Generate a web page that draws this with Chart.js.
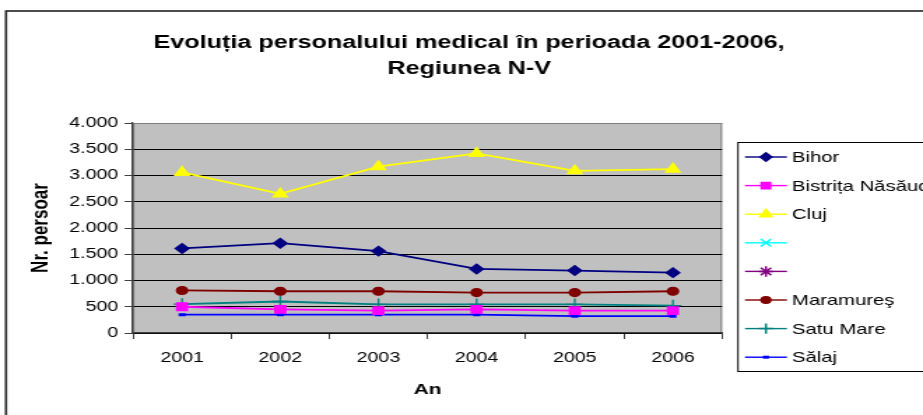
<!DOCTYPE html>
<html>
<head>
<meta charset="utf-8">
<script src="https://cdn.jsdelivr.net/npm/chart.js@4/dist/chart.umd.min.js"></script>
<style>
  html, body { margin:0; padding:0; background:#fff; overflow:hidden; }
  /* graficul original e intins pe orizontala (~1.4x), la fel si aici */
  #chart { display:block; transform:scaleX(1.39848); transform-origin:0 0; }
</style>
</head>
<body>
<canvas id="chart" width="660" height="415"></canvas>
<script>
// date
const ani = ['2001','2002','2003','2004','2005','2006'];
const bihor     = [1610, 1710, 1560, 1220, 1190, 1150];
const bistrita  = [ 500,  450,  425,  450,  425,  425];
const cluj      = [3060, 2650, 3170, 3420, 3090, 3120];
const serieGoala1 = [];
const serieGoala2 = [];
const maramures = [ 810,  795,  795,  770,  770,  795];
const satuMare  = [ 550,  600,  545,  545,  545,  520];
const salaj     = [ 350,  350,  350,  350,  320,  320];
const yTicks = [0, 500, 1000, 1500, 2000, 2500, 3000, 3500, 4000];

const FONT = "'Liberation Sans', Arial, sans-serif";

const serii = [
  { label:'Bihor', data: bihor, color:'#000080', style:'rectRot', r:4.8 },
  { label:'Bistrița Năsăud', data: bistrita, color:'#FF00FF', style:'rect', r:5.3 },
  { label:'Cluj', data: cluj, color:'#FFFF00', style:'triangle', r:5.8 },
  { label:'', data: serieGoala1, color:'#00FFFF', style:'crossRot', r:5 },
  { label:'', data: serieGoala2, color:'#800080', style:'star', r:5 },
  { label:'Maramureş', data: maramures, color:'#800000', style:'circle', r:3.9 },
  { label:'Satu Mare', data: satuMare, color:'#008080', style:'cross', r:6 },
  { label:'Sălaj', data: salaj, color:'#0000FF', style:'line', r:2.5 }
];

const fmt = v => String(v).replace(/\B(?=(\d{3})+(?!\d))/g, '.');

const fundal = {
  id:'fundal',
  beforeDraw(chart){
    const {ctx, chartArea:a} = chart;
    ctx.save();
    ctx.fillStyle = '#fff';
    ctx.fillRect(0,0,chart.width,chart.height);
    ctx.strokeStyle = '#222';
    ctx.lineWidth = 1.6;
    ctx.strokeRect(4.3, 11, chart.width + 10, chart.height + 10);
    ctx.fillStyle = '#C0C0C0';
    ctx.fillRect(a.left, a.top, a.right - a.left, a.bottom - a.top);
    ctx.strokeStyle = '#808080';
    ctx.lineWidth = 1;
    ctx.strokeRect(a.left + 0.5, a.top + 0.5, a.right - a.left - 1, a.bottom - a.top);
    ctx.restore();
  }
};

const legenda = {
  id:'legenda',
  afterDraw(chart){
    const ctx = chart.ctx;
    const x0 = 527.7, y0 = 142, h = 229, step = 28.6;
    ctx.save();
    ctx.strokeStyle = '#000';
    ctx.lineWidth = 1;
    ctx.strokeRect(x0, y0 + 0.5, 300, h);
    chart.data.datasets.forEach((ds, i) => {
      const y = 157 + i * step;
      ctx.strokeStyle = ds.borderColor;
      ctx.lineWidth = 1.4;
      ctx.beginPath();
      ctx.moveTo(532.7, y); ctx.lineTo(562.7, y);
      ctx.stroke();
      ctx.fillStyle = ds.borderColor;
      ctx.lineWidth = ds.pointStyle === 'line' ? 3 : 1.5;
      const k = (ds.pointStyle === 'crossRot' || ds.pointStyle === 'star') ? 1.05 : 0.85;
      Chart.helpers.drawPoint(ctx, {
        pointStyle: ds.pointStyle, rotation: 0,
        radius: ds.pointRadius * k, borderWidth: ctx.lineWidth
      }, 547.7, y);
      ctx.fillStyle = '#000';
      ctx.font = '14.5px ' + FONT;
      ctx.textBaseline = 'middle';
      ctx.fillText(ds.label, 566.3, y + 1);
    });
    ctx.restore();
  }
};

new Chart(document.getElementById('chart'), {
  type:'line',
  data:{
    labels: ani,
    datasets: serii.map(s => ({
      label: s.label,
      data: s.data,
      borderColor: s.color,
      backgroundColor: s.color,
      pointBackgroundColor: s.color,
      pointBorderColor: s.color,
      borderWidth: 1.8,
      pointStyle: s.style,
      pointRadius: s.r,
      pointBorderWidth: s.style === 'line' ? 3 : 1.3,
      tension: 0,
      fill: false
    }))
  },
  options:{
    responsive:false,
    animation:false,
    layout:{ padding:{ left:10.8, right:0, top:0, bottom:0 } },
    plugins:{
      legend:{ display:false },
      tooltip:{ enabled:false },
      title:{
        display:true,
        text:['Evoluția personalului medical în perioada 2001-2006,', 'Regiunea N-V'],
        color:'#000',
        font:{ family:FONT, size:18, weight:'bold', lineHeight:1.45 },
        padding:{ top:30, bottom:40.8 }
      }
    },
    scales:{
      x:{
        offset:true,
        grid:{ drawOnChartArea:false, drawTicks:true, tickLength:6, color:'#404040', offset:true },
        border:{ color:'#404040', width:1.3 },
        ticks:{ color:'#000', font:{ family:FONT, size:14 }, padding:11 },
        title:{ display:true, text:'An', color:'#000', font:{ family:FONT, size:15, weight:'bold' }, padding:{ bottom:16 } },
        afterFit(s){ s.height = 82; }
      },
      y:{
        min:0, max:4000,
        afterBuildTicks(s){ s.ticks = yTicks.map(v => ({ value:v })); },
        grid:{
          color: c => (c.tick && c.tick.value === 4000) ? '#808080' : '#000',
          tickColor:'#404040', tickLength:6, lineWidth:1
        },
        border:{ color:'#404040', width:1.3 },
        ticks:{ color:'#000', font:{ family:FONT, size:14 }, padding:4.5, callback: v => fmt(v) },
        title:{ display:true, text:'Nr. persoar', color:'#000', font:{ family:FONT, size:17, weight:'bold' }, padding:{ top:8 } },
        afterFit(s){ s.width = 84.3; }
      },
      yDreapta:{
        position:'right', min:0, max:4000,
        grid:{ display:false }, ticks:{ display:false }, border:{ display:false },
        afterFit(s){ s.width = 143.7; }
      }
    }
  },
  plugins:[fundal, legenda]
});
</script>
</body>
</html>
